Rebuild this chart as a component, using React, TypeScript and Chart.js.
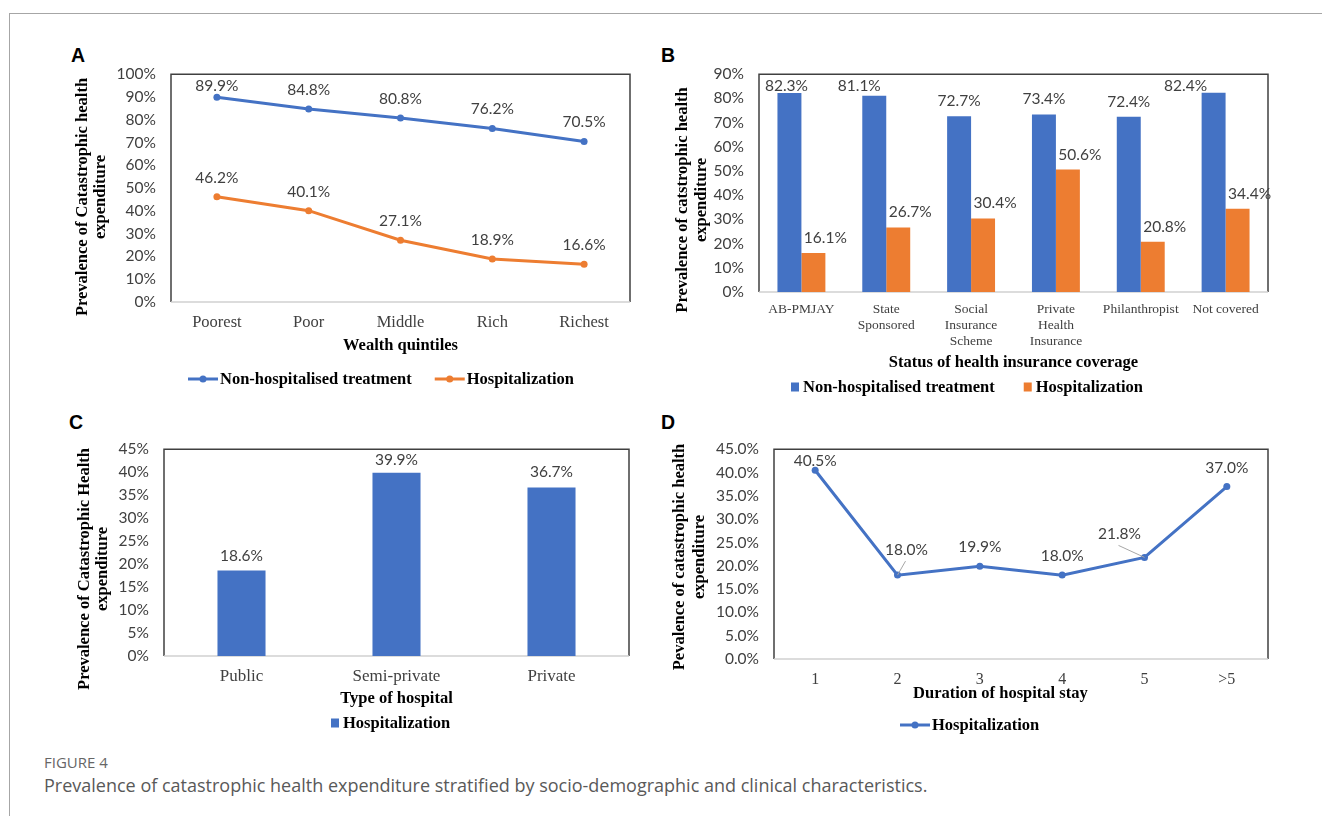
import React, { useEffect, useRef } from 'react';
import { Chart, registerables } from 'chart.js';

Chart.register(...registerables);

const BLUE = '#4472C4';
const ORANGE = '#ED7D31';
const SANS = 'Lato, "Open Sans", "Liberation Sans", sans-serif';
const SERIF = '"Liberation Serif", "DejaVu Serif", serif';

// ---------------- data ----------------
const wealthQuintiles = ['Poorest', 'Poor', 'Middle', 'Rich', 'Richest'];
const wealthNonHospitalised = [89.9, 84.8, 80.8, 76.2, 70.5];
const wealthHospitalization = [46.2, 40.1, 27.1, 18.9, 16.6];
const yTicksA = ['0%', '10%', '20%', '30%', '40%', '50%', '60%', '70%', '80%', '90%', '100%'];

const insuranceStatus = [
  ['AB-PMJAY'],
  ['State', 'Sponsored'],
  ['Social', 'Insurance', 'Scheme'],
  ['Private', 'Health', 'Insurance'],
  ['Philanthropist'],
  ['Not covered'],
];
const insuranceNonHospitalised = [82.3, 81.1, 72.7, 73.4, 72.4, 82.4];
const insuranceHospitalization = [16.1, 26.7, 30.4, 50.6, 20.8, 34.4];
const yTicksB = ['0%', '10%', '20%', '30%', '40%', '50%', '60%', '70%', '80%', '90%'];

const hospitalTypes = ['Public', 'Semi-private', 'Private'];
const hospitalTypeHospitalization = [18.6, 39.9, 36.7];
const yTicksC = ['0%', '5%', '10%', '15%', '20%', '25%', '30%', '35%', '40%', '45%'];

const stayDurations = ['1', '2', '3', '4', '5', '>5'];
const stayHospitalization = [40.5, 18.0, 19.9, 18.0, 21.8, 37.0];
const yTicksD = ['0.0%', '5.0%', '10.0%', '15.0%', '20.0%', '25.0%', '30.0%', '35.0%', '40.0%', '45.0%'];

// ---------------- layout ----------------
type Rect = { left: number; top: number; width: number; height: number };
type Area = { left: number; top: number; right: number; bottom: number };
type Geom = { canvas: Rect; plot: Area };

const geomA: Geom = { canvas: { left: 60, top: 50, width: 600, height: 350 }, plot: { left: 171, top: 69, right: 630, bottom: 302 } };
const geomB: Geom = { canvas: { left: 664, top: 50, width: 640, height: 350 }, plot: { left: 759, top: 69, right: 1268, bottom: 292 } };
const geomC: Geom = { canvas: { left: 60, top: 425, width: 600, height: 310 }, plot: { left: 164, top: 442, right: 629, bottom: 656 } };
const geomD: Geom = { canvas: { left: 664, top: 425, width: 640, height: 310 }, plot: { left: 774, top: 439, right: 1268, bottom: 659 } };

const TITLE_SIZE = 16.5;
const titleFont = { family: SERIF, size: TITLE_SIZE, weight: 'bold' as const, lineHeight: 1.15 };
const tickFont = { family: SANS, size: 15.5 };

// ---------------- plugins ----------------
const framePlugin = {
  id: 'plotFrame',
  beforeDatasetsDraw(chart: any) {
    const { ctx, chartArea: a } = chart;
    ctx.save();
    ctx.strokeStyle = '#404040';
    ctx.lineWidth = 1.5;
    ctx.beginPath();
    ctx.moveTo(a.left, a.bottom);
    ctx.lineTo(a.left, a.top);
    ctx.lineTo(a.right, a.top);
    ctx.lineTo(a.right, a.bottom);
    ctx.stroke();
    ctx.strokeStyle = '#d0d0d0';
    ctx.beginPath();
    ctx.moveTo(a.left, a.bottom);
    ctx.lineTo(a.right, a.bottom);
    ctx.stroke();
    ctx.restore();
  },
};

function yTitlePlugin(g: Geom, lines: string[], xs: number[], cy: number) {
  return {
    id: 'yTitle',
    afterDraw(chart: any) {
      const ctx = chart.ctx;
      ctx.save();
      ctx.font = `bold ${TITLE_SIZE}px ${SERIF}`;
      ctx.fillStyle = '#000';
      ctx.textAlign = 'center';
      ctx.textBaseline = 'middle';
      lines.forEach((t, i) => {
        ctx.save();
        ctx.translate(xs[i] - g.canvas.left, cy - g.canvas.top);
        ctx.rotate(-Math.PI / 2);
        ctx.fillText(t, 0, 0);
        ctx.restore();
      });
      ctx.restore();
    },
  };
}

function legendPlugin(g: Geom, kind: 'line' | 'box', x0: number, y: number, gap: number) {
  return {
    id: 'customLegend',
    afterDraw(chart: any) {
      const ctx = chart.ctx;
      ctx.save();
      ctx.font = `bold ${TITLE_SIZE}px ${SERIF}`;
      ctx.textBaseline = 'middle';
      ctx.textAlign = 'left';
      let x = x0 - g.canvas.left;
      const yy = y - g.canvas.top;
      chart.data.datasets.forEach((ds: any) => {
        const color = kind === 'line' ? ds.borderColor : ds.backgroundColor;
        if (kind === 'line') {
          ctx.strokeStyle = color;
          ctx.lineWidth = 3;
          ctx.beginPath();
          ctx.moveTo(x, yy);
          ctx.lineTo(x + 30, yy);
          ctx.stroke();
          ctx.fillStyle = color;
          ctx.beginPath();
          ctx.arc(x + 15, yy, 3.5, 0, Math.PI * 2);
          ctx.fill();
          x += 32;
        } else {
          ctx.fillStyle = color;
          ctx.fillRect(x, yy - 4.5, 8, 9);
          x += 12;
        }
        ctx.fillStyle = '#000';
        ctx.fillText(ds.label, x, yy + 1);
        x += ctx.measureText(ds.label).width + gap;
      });
      ctx.restore();
    },
  };
}

type LabelCfg = {
  offset: number;
  minTop: number;
  dx?: number[][];
  moved?: Record<string, { dx: number; dy: number }>;
};

function valueLabelPlugin(cfg: LabelCfg) {
  return {
    id: 'valueLabels',
    afterDatasetsDraw(chart: any) {
      const { ctx, chartArea: a } = chart;
      ctx.save();
      ctx.font = `${tickFont.size}px ${SANS}`;
      ctx.textAlign = 'center';
      ctx.textBaseline = 'middle';
      chart.data.datasets.forEach((ds: any, d: number) => {
        const meta = chart.getDatasetMeta(d);
        meta.data.forEach((el: any, i: number) => {
          const v = ds.data[i] as number;
          const px = el.x;
          const py = el.y;
          let lx = px + (cfg.dx?.[d]?.[i] ?? 0);
          let ly = Math.max(py - cfg.offset, a.top + cfg.minTop);
          const m = cfg.moved?.[`${d}:${i}`];
          if (m) {
            lx = px + m.dx;
            ly = py + m.dy;
            ctx.strokeStyle = '#a6a6a6';
            ctx.lineWidth = 1;
            ctx.beginPath();
            ctx.moveTo(lx - 1, ly + 11);
            ctx.lineTo(px, py);
            ctx.stroke();
          }
          ctx.fillStyle = '#404040';
          ctx.fillText(v.toFixed(1) + '%', lx, ly);
        });
      });
      ctx.restore();
    },
  };
}

// ---------------- options ----------------
type AxisCfg = {
  max: number;
  step: number;
  yLabels: string[];
  xTitle: string;
  xTickSize: number;
  xTickLineHeight: number;
  xTickPad: number;
  xTitlePadBottom: number;
};

function makeOptions(g: Geom, a: AxisCfg): any {
  const { canvas: c, plot: p } = g;
  return {
    responsive: false,
    animation: false,
    events: [],
    layout: {
      padding: { top: p.top - c.top, right: c.left + c.width - p.right, left: 0, bottom: 0 },
    },
    plugins: { legend: { display: false }, tooltip: { enabled: false }, title: { display: false } },
    scales: {
      x: {
        offset: true,
        grid: { display: false, drawTicks: false },
        border: { display: false },
        ticks: {
          font: { family: SERIF, size: a.xTickSize, lineHeight: a.xTickLineHeight },
          color: '#404040',
          padding: a.xTickPad,
          maxRotation: 0,
          minRotation: 0,
          autoSkip: false,
        },
        title: {
          display: true,
          text: a.xTitle,
          font: titleFont,
          color: '#000',
          padding: { top: 0, bottom: a.xTitlePadBottom },
        },
        afterFit: (s: any) => {
          s.height = c.top + c.height - p.bottom;
        },
      },
      y: {
        min: 0,
        max: a.max,
        grid: { display: false, drawTicks: false },
        border: { display: false },
        ticks: {
          stepSize: a.step,
          font: tickFont,
          color: '#404040',
          padding: 15,
          callback: (_v: any, i: number) => a.yLabels[i] ?? '',
        },
        afterFit: (s: any) => {
          s.width = p.left - c.left;
        },
      },
    },
  };
}

function lineDataset(label: string, data: number[], color: string) {
  return {
    label,
    data,
    borderColor: color,
    backgroundColor: color,
    borderWidth: 3,
    pointRadius: 3.5,
    pointBackgroundColor: color,
    pointBorderColor: color,
    pointBorderWidth: 0,
    tension: 0,
  };
}

function configA(): any {
  return {
    type: 'line',
    data: {
      labels: wealthQuintiles,
      datasets: [
        lineDataset('Non-hospitalised treatment', wealthNonHospitalised, BLUE),
        lineDataset('Hospitalization', wealthHospitalization, ORANGE),
      ],
    },
    options: makeOptions(geomA, {
      max: 100, step: 10, yLabels: yTicksA, xTitle: 'Wealth quintiles',
      xTickSize: 16.5, xTickLineHeight: 1.2, xTickPad: 11, xTitlePadBottom: 44.5,
    }),
    plugins: [
      framePlugin,
      valueLabelPlugin({ offset: 19, minTop: 12 }),
      yTitlePlugin(geomA, ['Prevalence of Catastrophic health', 'expenditure'], [83, 101], 197),
      legendPlugin(geomA, 'line', 188, 379, 23),
    ],
  };
}

function configB(): any {
  return {
    type: 'bar',
    data: {
      labels: insuranceStatus,
      datasets: [
        { label: 'Non-hospitalised treatment', data: insuranceNonHospitalised, backgroundColor: BLUE, barPercentage: 1, categoryPercentage: 0.565 },
        { label: 'Hospitalization', data: insuranceHospitalization, backgroundColor: ORANGE, barPercentage: 1, categoryPercentage: 0.565 },
      ],
    },
    options: makeOptions(geomB, {
      max: 90, step: 10, yLabels: yTicksB, xTitle: 'Status of health insurance coverage',
      xTickSize: 13.5, xTickLineHeight: 1.19, xTickPad: 9, xTitlePadBottom: 27.5,
    }),
    plugins: [
      framePlugin,
      valueLabelPlugin({
        offset: 15,
        minTop: 12,
        dx: [
          [-3, -15, 0, 0, 0, -28],
          [12, 12, 12, 12, 12, 12],
        ],
      }),
      yTitlePlugin(geomB, ['Prevalence of catstrophic health', 'expenditure'], [683, 702], 200),
      legendPlugin(geomB, 'box', 791, 387, 29),
    ],
  };
}

function configC(): any {
  return {
    type: 'bar',
    data: {
      labels: hospitalTypes,
      datasets: [
        { label: 'Hospitalization', data: hospitalTypeHospitalization, backgroundColor: BLUE, barPercentage: 1, categoryPercentage: 0.31 },
      ],
    },
    options: makeOptions(geomC, {
      max: 45, step: 5, yLabels: yTicksC, xTitle: 'Type of hospital',
      xTickSize: 17, xTickLineHeight: 1.2, xTickPad: 10, xTitlePadBottom: 26.5,
    }),
    plugins: [
      framePlugin,
      valueLabelPlugin({ offset: 15, minTop: 11 }),
      yTitlePlugin(geomC, ['Prevalence of Catastrophic Health', 'expenditure'], [85, 103], 569),
      legendPlugin(geomC, 'box', 331, 723, 20),
    ],
  };
}

function configD(): any {
  return {
    type: 'line',
    data: {
      labels: stayDurations,
      datasets: [lineDataset('Hospitalization', stayHospitalization, BLUE)],
    },
    options: makeOptions(geomD, {
      max: 45, step: 5, yLabels: yTicksD, xTitle: 'Duration of hospital stay' + '\u00A0'.repeat(10),
      xTickSize: 16, xTickLineHeight: 1.2, xTickPad: 11, xTitlePadBottom: 31.5,
    }),
    plugins: [
      framePlugin,
      valueLabelPlugin({
        offset: 19,
        minTop: 12,
        moved: { '0:1': { dx: 9, dy: -25 }, '0:4': { dx: -25, dy: -23 } },
      }),
      yTitlePlugin(geomD, ['Pevalence of catastrophic health', 'expenditure'], [680, 700], 557),
      legendPlugin(geomD, 'line', 900, 725, 20),
    ],
  };
}

// ---------------- components ----------------
function ChartCanvas({ geom, build }: { geom: Geom; build: () => any }) {
  const ref = useRef<HTMLCanvasElement>(null);
  useEffect(() => {
    const chart = new Chart(ref.current as HTMLCanvasElement, build());
    return () => chart.destroy();
  }, []);
  const c = geom.canvas;
  return (
    <canvas
      ref={ref}
      width={c.width}
      height={c.height}
      style={{ position: 'absolute', left: c.left, top: c.top, width: c.width, height: c.height }}
    />
  );
}

function PanelLetter({ text, left, top }: { text: string; left: number; top: number }) {
  return (
    <div
      style={{
        position: 'absolute', left, top, fontFamily: '"Liberation Sans", Arial, sans-serif',
        fontWeight: 'bold', fontSize: 19.5, lineHeight: '20px', color: '#000',
      }}
    >
      {text}
    </div>
  );
}

export default function App() {
  return (
    <div style={{ position: 'absolute', left: 0, top: 0, width: 1322, height: 816, overflow: 'hidden', background: '#fff' }}>
      <div style={{ position: 'absolute', left: 9, top: 13, width: 1313, height: 0, borderTop: '1px solid #a6a6a6' }} />
      <div style={{ position: 'absolute', left: 9, top: 13, width: 0, height: 803, borderLeft: '1px solid #a6a6a6' }} />

      <PanelLetter text="A" left={71} top={45} />
      <PanelLetter text="B" left={661} top={45} />
      <PanelLetter text="C" left={69} top={412} />
      <PanelLetter text="D" left={661} top={412} />

      <ChartCanvas geom={geomA} build={configA} />
      <ChartCanvas geom={geomB} build={configB} />
      <ChartCanvas geom={geomC} build={configC} />
      <ChartCanvas geom={geomD} build={configD} />

      <div
        style={{
          position: 'absolute', left: 44, top: 753, fontFamily: '"Open Sans", sans-serif',
          fontSize: 15, lineHeight: '18px', color: '#666',
        }}
      >
        FIGURE 4
      </div>
      <div
        style={{
          position: 'absolute', left: 44, top: 774, fontFamily: '"Open Sans", sans-serif',
          fontSize: 18, lineHeight: '22px', color: '#595959', whiteSpace: 'nowrap',
        }}
      >
        Prevalence of catastrophic health expenditure stratified by socio-demographic and clinical characteristics.
      </div>
    </div>
  );
}
